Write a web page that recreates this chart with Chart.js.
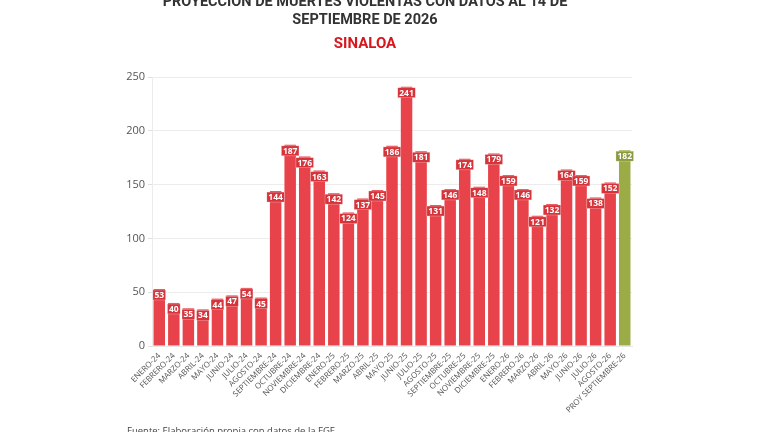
<!DOCTYPE html>
<html>
<head>
<meta charset="utf-8">
<script src="https://cdn.jsdelivr.net/npm/chart.js@4/dist/chart.umd.min.js"></script>
<style>
  html,body{margin:0;padding:0;background:#fff;width:768px;height:432px;overflow:hidden;}
  #wrap{position:absolute;left:0;top:0;width:768px;height:432px;}
  .t{position:absolute;left:0;width:730px;text-align:center;font-family:Roboto,"Liberation Sans",sans-serif;font-weight:700;white-space:nowrap;}
  #t1{top:-7px;font-size:14.5px;color:#333;}
  #t2{top:11px;font-size:14.5px;color:#333;}
  #t3{top:34px;font-size:15px;color:#d7161f;}
  #foot{position:absolute;left:127px;top:424px;font-family:"Open Sans",sans-serif;font-size:9.5px;color:#444;white-space:nowrap;}
</style>
</head>
<body>
<div id="wrap"><canvas id="c" width="768" height="432"></canvas></div>
<div class="t" id="t1">PROYECCIÓN DE MUERTES VIOLENTAS CON DATOS AL 14 DE</div>
<div class="t" id="t2">SEPTIEMBRE DE 2026</div>
<div class="t" id="t3">SINALOA</div>
<div id="foot">Fuente: Elaboración propia con datos de la FGE</div>
<script>
const categories = [
  "ENERO-24","FEBRERO-24","MARZO-24","ABRIL-24","MAYO-24","JUNIO-24","JULIO-24","AGOSTO-24",
  "SEPTIEMBRE-24","OCTUBRE-24","NOVIEMBRE-24","DICIEMBRE-24",
  "ENERO-25","FEBRERO-25","MARZO-25","ABRIL-25","MAYO-25","JUNIO-25","JULIO-25","AGOSTO-25",
  "SEPTIEMBRE-25","OCTUBRE-25","NOVIEMBRE-25","DICIEMBRE-25",
  "ENERO-26","FEBRERO-26","MARZO-26","ABRIL-26","MAYO-26","JUNIO-26","JULIO-26","AGOSTO-26",
  "PROY SEPTIEMBRE-26"
];
const muertes = [
  53,40,35,34,44,47,54,45,
  144,187,176,163,
  142,124,137,145,186,241,181,131,146,174,148,179,
  159,146,121,132,164,159,138,152,
  182
];
const projectedIndex = [32];
const yTicks = [0,50,100,150,200,250];

const RED = '#e8434a', GREEN = '#9bab46';
const RED_BOX = '#d5343b', GREEN_BOX = '#8a9a3a';

const labelPlugin = {
  id: 'barLabels',
  afterDatasetsDraw(chart) {
    const ctx = chart.ctx;
    const meta = chart.getDatasetMeta(0);
    ctx.save();
    ctx.font = 'bold 8.5px "Open Sans", sans-serif';
    ctx.textAlign = 'center';
    ctx.textBaseline = 'middle';
    meta.data.forEach((bar, i) => {
      const txt = String(chart.data.datasets[0].data[i]);
      const w = ctx.measureText(txt).width + 3;
      const h = 10;
      const x = bar.x, y = bar.y + 1;
      ctx.fillStyle = projectedIndex.includes(i) ? GREEN_BOX : RED_BOX;
      ctx.fillRect(x - w/2, y, w, h);
      ctx.strokeStyle = 'rgba(255,255,255,0.45)';
      ctx.lineWidth = 0.6;
      ctx.strokeRect(x - w/2, y, w, h);
      ctx.fillStyle = '#fff';
      ctx.fillText(txt, x, y + h/2 + 0.5);
    });
    ctx.restore();
  }
};

new Chart(document.getElementById('c'), {
  type: 'bar',
  data: {
    labels: categories,
    datasets: [{
      data: muertes,
      backgroundColor: (c) => projectedIndex.includes(c.dataIndex) ? GREEN : RED,
      borderWidth: 0,
      barPercentage: 0.79,
      categoryPercentage: 1.0
    }]
  },
  options: {
    responsive: false,
    animation: false,
    devicePixelRatio: 1,
    layout: { padding: { left: 112, right: 136, top: 77, bottom: 0 } },
    plugins: { legend: { display: false }, tooltip: { enabled: false }, title: { display: false } },
    scales: {
      x: {
        grid: { display: false, drawTicks: false },
        border: { display: true, color: '#e6e6e6' },
        afterFit: (s) => { s.height = 86; },
        ticks: {
          autoSkip: false,
          maxRotation: 45, minRotation: 45,
          padding: 5,
          color: '#555',
          font: { family: '"Open Sans", sans-serif', size: 8 }
        }
      },
      y: {
        min: 0, max: 250,
        afterFit: (s) => { s.width = 40; },
        afterBuildTicks: (s) => { s.ticks = yTicks.map(v => ({ value: v })); },
        grid: { color: '#ececec', tickLength: 4, tickColor: '#e0e0e0' },
        border: { display: true, color: '#ececec' },
        ticks: {
          padding: 3,
          color: '#555',
          font: { family: '"Open Sans", sans-serif', size: 11 }
        }
      }
    }
  },
  plugins: [labelPlugin]
});
</script>
</body>
</html>
